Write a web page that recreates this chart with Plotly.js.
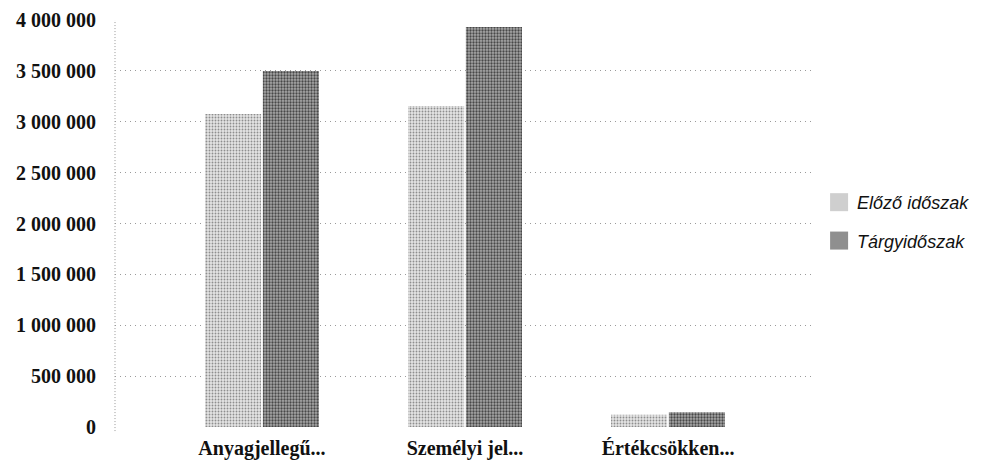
<!DOCTYPE html>
<html>
<head>
<meta charset="utf-8">
<script src="https://cdn.plot.ly/plotly-3.0.1.min.js"></script>
<style>html,body{margin:0;padding:0;background:#fff;}#chart{width:991px;height:461px;}</style>
</head>
<body>
<div id="chart"></div>
<script>
var categories = ["Anyagjellegű...", "Személyi jel...", "Értékcsökken..."];
var seriesNames = ["Előző időszak", "Tárgyidőszak"];
var previousPeriod = [3075000, 3155000, 120000];
var currentPeriod = [3500000, 3930000, 145000];
var yTickValues = [0, 500000, 1000000, 1500000, 2000000, 2500000, 3000000, 3500000, 4000000];
var yTickLabels = ["0", "500 000", "1 000 000", "1 500 000", "2 000 000", "2 500 000", "3 000 000", "3 500 000", "4 000 000"];

var serif = "Liberation Serif, Times New Roman, serif";
var swatchColors = ["#cfcfcf", "#8f8f8f"];

var traces = [
  {
    type: "bar", name: seriesNames[0], x: categories, y: previousPeriod,
    legendgroup: "a",
    marker: {color: "#d6d6d6", line: {width: 0},
      pattern: {shape: ".", fgcolor: "#8e8e8e", bgcolor: "#e4e4e4", size: 3, solidity: 0.3}}
  },
  {
    type: "bar", name: seriesNames[1], x: categories, y: currentPeriod,
    legendgroup: "b",
    marker: {color: "#9e9e9e", line: {width: 0},
      pattern: {shape: ".", fgcolor: "#484848", bgcolor: "#a8a8a8", size: 3, solidity: 0.45}}
  }
];

var layout = {
  width: 991, height: 461,
  margin: {l: 115, r: 176, t: 20, b: 34, autoexpand: false},
  paper_bgcolor: "#fff", plot_bgcolor: "#fff",
  barmode: "group", bargap: 0.43, bargroupgap: 0.03,
  showlegend: true,
  legend: {x: 1.003, xanchor: "left", y: 0.505, yanchor: "middle",
    font: {family: "Liberation Sans, Arial, sans-serif", size: 18, color: "#111", style: "italic"},
    traceorder: "grouped", tracegroupgap: 12, itemwidth: 30},
  xaxis: {
    type: "category", range: [-0.724, 2.724],
    showgrid: false, zeroline: false, showline: false, ticks: "",
    ticklabelstandoff: 7,
    tickfont: {family: serif, size: 20, color: "#111", weight: "bold"}
  },
  yaxis: {
    range: [0, 4000000], tickvals: yTickValues, ticktext: yTickLabels,
    showgrid: true, gridcolor: "#9a9a9a", griddash: "1px,4px", gridwidth: 1,
    zeroline: false, showline: false, ticks: "",
    ticklabelstandoff: 18,
    tickfont: {family: serif, size: 20, color: "#111", weight: "bold"}
  },
  shapes: [
    {type: "line", xref: "paper", yref: "paper", x0: 0, x1: 0, y0: -0.01, y1: 1,
     line: {color: "#999", width: 1, dash: "1px,2px"}}
  ]
};

Plotly.newPlot("chart", traces, layout, {displayModeBar: false, staticPlot: true}).then(function () {
  document.querySelectorAll("#chart .legend .traces").forEach(function (t, i) {
    t.querySelectorAll(".legendpoints path").forEach(function (p) {
      p.setAttribute("transform", "translate(22,0) scale(1.5)");
      p.style.fill = swatchColors[i % swatchColors.length];
      p.style.stroke = "none";
    });
  });
});
</script>
</body>
</html>
